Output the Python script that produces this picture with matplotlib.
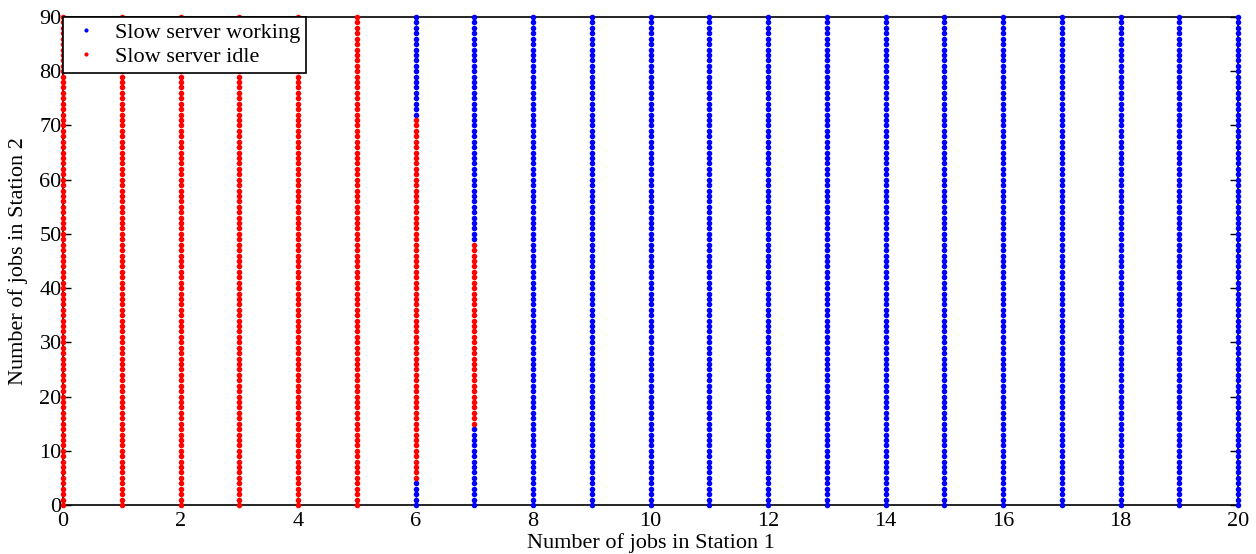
import numpy as np
import matplotlib
matplotlib.use("Agg")
import matplotlib.pyplot as plt

plt.rcParams['font.family'] = ['Liberation Serif', 'DejaVu Serif']
plt.rcParams['mathtext.fontset'] = 'stix'

# Station 1 queue lengths and Station 2 queue lengths on the grid
station1 = list(range(0, 21))
station2 = list(range(0, 91))

# For each Station 1 state, the Station 2 range (inclusive) in which the slow server is idle
idle_low = [0, 0, 0, 0, 0, 0, 5, 15] + [None] * 13
idle_high = [90, 90, 90, 90, 90, 90, 71, 48] + [None] * 13

xticks = list(range(0, 21, 2))
yticks = list(range(0, 91, 10))

work_x, work_y, idle_x, idle_y = [], [], [], []
for i, n1 in enumerate(station1):
    lo, hi = idle_low[i], idle_high[i]
    for n2 in station2:
        if lo is not None and lo <= n2 <= hi:
            idle_x.append(n1); idle_y.append(n2)
        else:
            work_x.append(n1); work_y.append(n2)

fs = 16
W, H = 1256, 554
L, R, T, B = 63, 1238, 17, 505

fig = plt.figure(figsize=(W / 100, H / 100), dpi=100)
ax = fig.add_axes([L / W, 1 - B / H, (R - L) / W, (B - T) / H])

ax.plot(work_x, work_y, 'o', color='#0000ff', ms=4.0, mew=0, clip_on=False,
        label='Slow server working', zorder=3)
ax.plot(idle_x, idle_y, 'o', color='#ff0000', ms=4.0, mew=0, clip_on=False,
        label='Slow server idle', zorder=3)

ax.set_xlim(0, 20)
ax.set_ylim(0, 90)
ax.set_xticks(xticks)
ax.set_yticks(yticks)
ax.tick_params(direction='in', length=6, width=1, labelsize=fs,
               top=True, right=True)
ax.tick_params(axis='x', pad=5)
ax.tick_params(axis='y', pad=1)
for s in ax.spines.values():
    s.set_linewidth(1.2)

ax.set_xlabel('Number of jobs in Station 1', fontsize=fs)
ax.set_ylabel('Number of jobs in Station 2', fontsize=fs)
ax.xaxis.label.set_va('center')
ax.yaxis.label.set_va('center')
ax.yaxis.label.set_ha('center')
ax.xaxis.set_label_coords(0.5, -(543 - B) / (B - T))
ax.yaxis.set_label_coords(-(L - 18) / (R - L), 0.5)

leg = ax.legend(loc='upper left', fontsize=fs, frameon=True, fancybox=False,
                borderaxespad=0, markerscale=0.75, handlelength=1.6,
                borderpad=0.25, labelspacing=0.15, handletextpad=0.5)
leg.get_frame().set_edgecolor('black')
leg.get_frame().set_linewidth(1.2)
leg.get_frame().set_alpha(1)
leg.set_zorder(5)

fig.savefig('out.png', dpi=100)
